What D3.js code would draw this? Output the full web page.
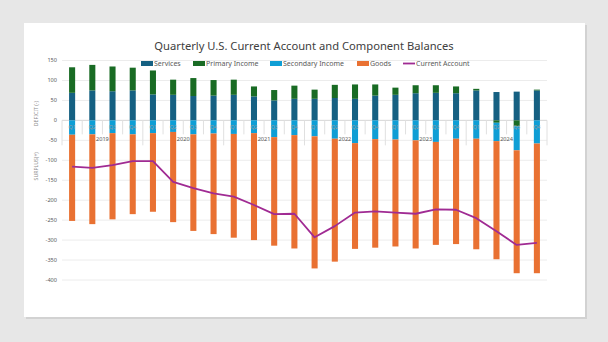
<!DOCTYPE html>
<html>
<head>
<meta charset="utf-8">
<script src="https://cdn.jsdelivr.net/npm/d3@7"></script>
<style>
  html, body { margin: 0; padding: 0; background: #e7e7e7; }
  svg { display: block; font-family: "Noto Sans", "Liberation Sans", sans-serif; }
</style>
</head>
<body>
<svg id="chart" width="608" height="342"></svg>
<script>
// quarters, 2019 Q1 .. 2024 Q4
const years = ["2019", "2020", "2021", "2022", "2023", "2024"];
const quarterNames = ["Q1", "Q2", "Q3", "Q4"];

// component balances, billions of dollars
const services = [69, 75, 73, 75, 65, 64, 61, 62, 64, 60, 50, 54,
                  54, 56, 54, 62, 64, 68, 69, 68, 75, 71, 72, 75];
const primaryIncome = [64, 64, 62, 57, 60, 38, 45, 39, 38, 25, 26, 33,
                       23, 33, 36, 28, 18, 20, 19, 17, 4, -6, -15, 2];
const secondaryIncome = [-36, -35, -32, -35, -32, -29, -35, -33, -34, -32, -42, -37,
                         -40, -46, -57, -47, -48, -50, -54, -46, -46, -46, -60, -58];
const goods = [-216, -225, -216, -200, -197, -226, -242, -252, -260, -268, -272, -284,
               -331, -308, -265, -272, -268, -271, -258, -264, -277, -296, -308, -325];
const currentAccount = [-116, -119, -112, -102, -102, -154, -170, -183, -191, -212, -235, -234,
                        -293, -265, -231, -228, -231, -234, -223, -224, -245, -278, -312, -307];

const yTicks = [150, 100, 50, 0, -50, -100, -150, -200, -250, -300, -350, -400];

const seriesNames = ["Services", "Primary Income", "Secondary Income", "Goods"];
const seriesColors = ["#156082", "#196B24", "#0F9ED5", "#E97132"];
const lineColor = "#A02B93";

const svg = d3.select("#chart");

// card
svg.append("rect")
  .attr("x", 26).attr("y", 25).attr("width", 561).attr("height", 294)
  .attr("fill", "#d2d2d2");
svg.append("rect")
  .attr("x", 24).attr("y", 23).attr("width", 561).attr("height", 294)
  .attr("fill", "#ffffff");

const margin = { left: 62, right: 547, top: 60.5, bottom: 280 };

const rows = [];
years.forEach((yr) => quarterNames.forEach((q) => rows.push({ year: yr, q })));
rows.forEach((r, i) => {
  r.key = `${r.year}-${r.q}`;
  r["Services"] = services[i];
  r["Primary Income"] = primaryIncome[i];
  r["Secondary Income"] = secondaryIncome[i];
  r["Goods"] = goods[i];
  r.ca = currentAccount[i];
});

const x = d3.scaleBand()
  .domain(rows.map((d) => d.key))
  .range([margin.left, margin.right])
  .paddingInner(0.7)
  .paddingOuter(0.35);

const y = d3.scaleLinear().domain([-400, 150]).range([margin.bottom, margin.top]);

// gridlines
svg.append("g")
  .selectAll("line")
  .data(yTicks)
  .join("line")
  .attr("x1", margin.left).attr("x2", margin.right)
  .attr("y1", (d) => y(d)).attr("y2", (d) => y(d))
  .attr("stroke", "#ececec").attr("stroke-width", 1);

// y axis labels
svg.append("g")
  .selectAll("text")
  .data(yTicks)
  .join("text")
  .attr("x", 57).attr("y", (d) => y(d))
  .attr("dy", "0.35em")
  .attr("text-anchor", "end")
  .attr("font-size", 5.6)
  .attr("fill", "#595959")
  .text((d) => d);

// y axis titles
svg.append("text")
  .attr("transform", `translate(38,${y(17)}) rotate(-90)`)
  .attr("text-anchor", "middle")
  .attr("font-size", 5.2).attr("fill", "#8c8c8c")
  .text("DEFICIT (-)");
svg.append("text")
  .attr("transform", `translate(38,${y(-115)}) rotate(-90)`)
  .attr("text-anchor", "middle")
  .attr("font-size", 5.2).attr("fill", "#8c8c8c")
  .text("SURPLUS(+)");

// category axis frame (multi-level)
const step = x.step();
const x0 = x(rows[0].key) - step * x.paddingInner() / 2;
const axisG = svg.append("g");
axisG.append("line")
  .attr("x1", margin.left).attr("x2", margin.right)
  .attr("y1", y(0)).attr("y2", y(0))
  .attr("stroke", "#d9d9d9");
axisG.selectAll("line.qtick")
  .data(d3.range(rows.length + 1))
  .join("line")
  .attr("class", "qtick")
  .attr("x1", (i) => x0 + i * step).attr("x2", (i) => x0 + i * step)
  .attr("y1", y(0)).attr("y2", (i) => (i % 4 === 0 ? y(0) + 25 : y(0) + 14))
  .attr("stroke", "#e0e0e0");

// stacked bars
const stack = d3.stack().keys(seriesNames).offset(d3.stackOffsetDiverging);
const stacked = stack(rows);

svg.append("g")
  .selectAll("g")
  .data(stacked)
  .join("g")
  .attr("fill", (d, i) => seriesColors[i])
  .selectAll("rect")
  .data((d) => d)
  .join("rect")
  .attr("x", (d) => x(d.data.key))
  .attr("width", x.bandwidth())
  .attr("y", (d) => y(Math.max(d[0], d[1])))
  .attr("height", (d) => Math.abs(y(d[0]) - y(d[1])));

// quarter labels drawn over the bars
svg.append("g")
  .selectAll("text")
  .data(rows)
  .join("text")
  .attr("x", (d) => x(d.key) + x.bandwidth() / 2)
  .attr("y", y(0) + 7)
  .attr("dy", "0.35em")
  .attr("text-anchor", "middle")
  .attr("font-size", 5.2)
  .attr("fill", "#9a9a9a")
  .text((d) => d.q);

// year labels
svg.append("g")
  .selectAll("text")
  .data(years)
  .join("text")
  .attr("x", (yr) => {
    const first = x(`${yr}-Q1`), last = x(`${yr}-Q4`) + x.bandwidth();
    return (first + last) / 2;
  })
  .attr("y", y(0) + 19)
  .attr("dy", "0.35em")
  .attr("text-anchor", "middle")
  .attr("font-size", 5.6)
  .attr("fill", "#595959")
  .text((yr) => yr);

// current account line
const line = d3.line()
  .x((d) => x(d.key) + x.bandwidth() / 2)
  .y((d) => y(d.ca));
svg.append("path")
  .datum(rows)
  .attr("d", line)
  .attr("fill", "none")
  .attr("stroke", lineColor)
  .attr("stroke-width", 1.8)
  .attr("stroke-linejoin", "round");

// title
svg.append("text")
  .attr("x", 304).attr("y", 49.5)
  .attr("text-anchor", "middle")
  .attr("font-size", 11.2)
  .attr("fill", "#404040")
  .text("Quarterly U.S. Current Account and Component Balances");

// legend
const legendItems = [
  { name: "Services", color: seriesColors[0], x: 141, type: "rect" },
  { name: "Primary Income", color: seriesColors[1], x: 193, type: "rect" },
  { name: "Secondary Income", color: seriesColors[2], x: 270, type: "rect" },
  { name: "Goods", color: seriesColors[3], x: 357, type: "rect" },
  { name: "Current Account", color: lineColor, x: 403, type: "line" },
];
const legend = svg.append("g");
legendItems.forEach((it) => {
  const g = legend.append("g").attr("transform", `translate(${it.x},63.5)`);
  if (it.type === "rect") {
    g.append("rect").attr("x", 0).attr("y", -2.5).attr("width", 12).attr("height", 5).attr("fill", it.color);
  } else {
    g.append("line").attr("x1", 0).attr("x2", 12).attr("y1", 0).attr("y2", 0)
      .attr("stroke", it.color).attr("stroke-width", 1.8);
  }
  g.append("text")
    .attr("x", 13).attr("y", 0).attr("dy", "0.35em")
    .attr("font-size", 7)
    .attr("fill", "#595959")
    .text(it.name);
});
</script>
</body>
</html>
